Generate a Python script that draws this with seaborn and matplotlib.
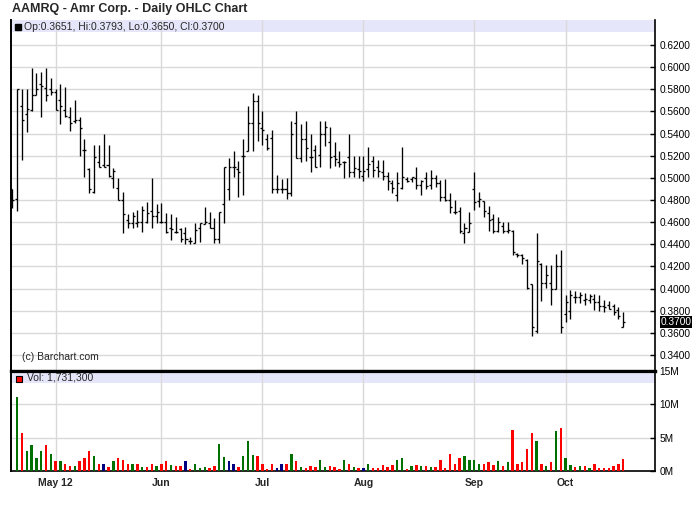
import numpy as np
import pandas as pd
import matplotlib
matplotlib.use("Agg")
import matplotlib.pyplot as plt
import matplotlib.transforms as mtransforms
from matplotlib.patches import Rectangle
import seaborn as sns

# ---- data ----
chart_title = "AAMRQ - Amr Corp. - Daily OHLC Chart"
first_day = "2012-04-18"
last_day = "2012-10-17"
holidays = ["2012-05-28", "2012-07-04", "2012-09-03"]
month_labels = ["May 12", "Jun", "Jul", "Aug", "Sep", "Oct"]

opens = [.490, .481, .565, .558, .561, .575, .585, .581, .580, .578,
         .570, .561, .555, .551, .552, .525, .508, .487, .514, .512,
         .512, .500, .491, .480, .462, .459, .459, .460, .460, .470,
         .466, .460, .460, .455, .451, .454, .450, .443, .441, .455,
         .458, .459, .455, .445, .476, .490, .510, .508, .520, .524,
         .550, .569, .545, .535, .536, .490, .490, .490, .486, .550,
         .518, .535, .519, .525, .521, .540, .532, .520, .514, .514,
         .519, .505, .508, .502, .508, .515, .510, .505, .502, .495,
         .485, .491, .499, .499, .500, .494, .500, .494, .500, .495,
         .483, .480, .469, .470, .450, .451, .490, .479, .479, .468,
         .463, .452, .457, .452, .452, .431, .430, .426, .404, .362,
         .422, .405, .405, .400, .420, .377, .380, .392, .392, .390,
         .390, .391, .388, .384, .385, .384, .381, .3651]
highs = [.490, .580, .580, .580, .599, .595, .596, .599, .590, .580,
         .585, .582, .564, .570, .555, .535, .509, .530, .530, .540,
         .530, .509, .500, .487, .467, .469, .471, .475, .478, .500,
         .476, .477, .468, .467, .465, .455, .456, .447, .459, .459,
         .474, .469, .464, .469, .510, .518, .524, .515, .535, .565,
         .577, .575, .560, .540, .543, .503, .499, .500, .551, .560,
         .549, .551, .540, .530, .551, .551, .546, .532, .524, .515,
         .540, .520, .520, .520, .528, .520, .516, .516, .505, .498,
         .505, .528, .501, .501, .510, .498, .505, .507, .503, .498,
         .499, .486, .480, .474, .459, .469, .505, .487, .479, .475,
         .467, .465, .460, .460, .453, .432, .431, .427, .404, .450,
         .423, .421, .421, .431, .435, .394, .399, .398, .397, .396,
         .395, .395, .394, .390, .389, .386, .383, .3793]
lows = [.473, .470, .516, .541, .560, .575, .555, .569, .575, .561,
        .549, .555, .542, .550, .520, .501, .486, .486, .510, .510,
        .501, .491, .480, .450, .455, .455, .456, .451, .459, .455,
        .459, .459, .450, .444, .450, .442, .440, .440, .441, .442,
        .458, .455, .441, .441, .459, .480, .501, .483, .485, .524,
        .524, .533, .530, .525, .486, .486, .486, .481, .484, .518,
        .514, .515, .505, .510, .510, .529, .509, .511, .510, .500,
        .501, .501, .500, .497, .501, .501, .501, .498, .489, .486,
        .479, .490, .496, .496, .490, .485, .490, .490, .492, .479,
        .479, .468, .467, .450, .441, .451, .471, .474, .465, .452,
        .450, .451, .450, .450, .430, .429, .422, .400, .357, .360,
        .389, .401, .385, .400, .360, .370, .373, .387, .387, .385,
        .387, .381, .380, .379, .382, .376, .373, .3650]
closes = [.480, .580, .552, .562, .575, .580, .583, .575, .578, .561,
          .565, .556, .550, .552, .545, .525, .490, .519, .510, .510,
          .502, .506, .480, .467, .459, .466, .460, .471, .468, .466,
          .469, .460, .451, .454, .451, .445, .445, .443, .453, .459,
          .460, .455, .445, .469, .510, .510, .510, .505, .520, .550,
          .569, .550, .543, .527, .490, .490, .490, .486, .540, .518,
          .535, .527, .519, .510, .540, .546, .519, .517, .513, .514,
          .505, .509, .506, .506, .513, .507, .506, .502, .497, .491,
          .495, .501, .497, .501, .494, .497, .493, .500, .495, .483,
          .480, .474, .469, .452, .455, .459, .478, .481, .470, .462,
          .452, .460, .452, .453, .433, .430, .428, .401, .365, .425,
          .405, .412, .400, .420, .365, .388, .394, .392, .394, .391,
          .393, .388, .384, .383, .382, .379, .375, .3700]
# volume in millions of shares
volumes = [0, 11.1, 5.7, 3.0, 3.9, 1.9, 3.0, 3.9, 2.5, 1.5,
           1.5, 1.0, 0.7, 0.7, 1.5, 1.9, 3.0, 2.2, 1.0, 1.0,
           0.6, 1.5, 1.9, 1.7, 1.1, 1.0, 1.1, 0.6, 0.6, 1.0,
           0.7, 1.0, 1.5, 0.9, 0.7, 0.7, 1.5, 0.25, 1.1, 0.45,
           0.6, 0.45, 0.7, 4.1, 2.1, 1.5, 1.1, 0.55, 2.2, 4.5,
           2.4, 2.2, 1.0, 0.3, 1.1, 0.4, 1.0, 1.0, 2.5, 1.5,
           0.6, 0.45, 0.7, 0.6, 1.7, 0.6, 0.7, 0.6, 0.3, 1.7,
           1.1, 0.55, 0.4, 0.4, 1.1, 0.4, 0.4, 0.85, 0.55, 0.85,
           1.6, 2.0, 0.25, 0.7, 0.85, 0.7, 0.7, 0.55, 0.55, 1.6,
           0.4, 2.6, 1.1, 1.9, 2.3, 1.6, 1.6, 1.0, 1.0, 1.4,
           0.85, 1.5, 0.7, 1.3, 6.1, 1.0, 1.3, 3.3, 5.7, 4.5,
           1.0, 0.7, 1.4, 6.0, 6.4, 2.0, 0.85, 0.55, 0.7, 0.7,
           0.4, 1.0, 0.4, 0.4, 0.4, 0.7, 1.0, 1.7313]

price_ticks = [0.34, 0.36, 0.38, 0.40, 0.42, 0.44, 0.46, 0.48, 0.50,
               0.52, 0.54, 0.56, 0.58, 0.60, 0.62]
volume_ticks = [0, 5, 10, 15]
last_vol = "1,731,300"

# ---- trading days ----
days = pd.bdate_range(first_day, last_day)
days = days[~days.isin(pd.to_datetime(holidays))]
idx = np.arange(len(days))
month_pos = [i for i in idx[1:] if days[i].month != days[i - 1].month]

df = pd.DataFrame({"i": idx, "o": opens, "h": highs, "l": lows, "c": closes, "vol": volumes})
chg = df["c"].diff().fillna(1)
df["dir"] = np.where(np.isclose(chg, 0), "flat", np.where(chg > 0, "up", "down"))
vol_colors = {"up": "#007000", "down": "#ff0000", "flat": "#000080"}

# ---- style ----
sns.set_style("white")
plt.rcParams["font.family"] = ["Liberation Sans", "DejaVu Sans"]

W, H = 700, 512
fig = plt.figure(figsize=(W / 100, H / 100), dpi=100)
axp = fig.add_axes([11 / W, 1 - 371 / H, 644 / W, 351 / H])
axv = fig.add_axes([11 / W, 1 - 471 / H, 644 / W, 100 / H])

grid_c = "#d9d9d9"
band_c = "#e6e6fa"
xlo, xhi = -0.27, 133.6

# price panel: OHLC bars
axp.vlines(df["i"], df["l"], df["h"], color="black", lw=0.95, zorder=3)
axp.hlines(df["o"], df["i"] - 0.42, df["i"], color="black", lw=0.95, zorder=3)
axp.hlines(df["c"], df["i"], df["i"] + 0.42, color="black", lw=0.95, zorder=3)
axp.set_ylim(0.3256, 0.6426)

# volume panel
sns.barplot(data=df, x="i", y="vol", native_scale=True, color="#ff0000",
            saturation=1, width=0.5, errorbar=None, ax=axv, zorder=3)
for bar, d in zip(axv.patches, df["dir"]):
    bar.set_facecolor(vol_colors[d])
    bar.set_edgecolor("none")
axv.set_ylim(0, 15)

for ax in (axp, axv):
    ax.set_xlim(xlo, xhi)
    ax.set_axisbelow(True)
    ax.set_xlabel("")
    ax.set_ylabel("")
    ax.set_xticks(month_pos)
    ax.grid(True, color=grid_c, lw=1.0)
    ax.yaxis.tick_right()
    ax.tick_params(axis="y", direction="in", length=3.5, width=1, pad=3,
                   labelsize=7.3, colors="black", right=True, left=False)
    ax.tick_params(axis="x", length=0)
    ax.spines["left"].set_linewidth(1.4)
    ax.spines["right"].set_linewidth(1.2)
    for s in ax.spines.values():
        s.set_color("black")
    # header band
    hb = 12 / (351 if ax is axp else 100)
    ax.add_patch(Rectangle((0, 1 - hb), 1, hb, transform=ax.transAxes,
                           facecolor=band_c, edgecolor="none", zorder=0.2))

axp.spines["top"].set_visible(False)
axp.spines["bottom"].set_linewidth(2.3)
axv.spines["top"].set_linewidth(2.3)
axv.spines["bottom"].set_linewidth(1.2)

axp.set_yticks(price_ticks)
axp.set_yticklabels([f"{t:.4f}" for t in price_ticks])
axp.tick_params(axis="x", labelbottom=False)
axv.set_yticks(volume_ticks)
axv.set_yticklabels([f"{t}M" for t in volume_ticks])
axv.set_xticklabels(month_labels, fontsize=7.5, fontweight="bold")
axv.tick_params(axis="x", pad=5)

# last close marker
tr = mtransforms.blended_transform_factory(axp.transAxes, axp.transData)
axp.annotate(f"{closes[-1]:.4f}", xy=(1, closes[-1]), xycoords=tr,
             xytext=(4, 0), textcoords="offset points", va="center", ha="left",
             fontsize=7.3, color="white", zorder=6,
             bbox=dict(boxstyle="square,pad=0.08", fc="black", ec="none"))

# texts
fig.text(12 / W, 1 - 9 / H, chart_title, fontsize=9, fontweight="bold", va="center", ha="left")
fig.add_artist(Rectangle((15 / W, 1 - 29.5 / H), 6 / W, 6 / H, transform=fig.transFigure,
                         facecolor="black", edgecolor="black"))
fig.text(24 / W, 1 - 26.5 / H,
         f"Op:{opens[-1]:.4f}, Hi:{highs[-1]:.4f}, Lo:{lows[-1]:.4f}, Cl:{closes[-1]:.4f}",
         fontsize=7.5, va="center", ha="left")
fig.add_artist(Rectangle((16 / W, 1 - 381.5 / H), 6 / W, 6 / H, transform=fig.transFigure,
                         facecolor="#ff0000", edgecolor="black", lw=0.8))
fig.text(27 / W, 1 - 377.5 / H, f"Vol: {last_vol}", fontsize=7.5, va="center", ha="left")
axp.text(11 / 644, 14 / 351, "(c) Barchart.com", transform=axp.transAxes,
         fontsize=7.5, va="center", ha="left")

fig.savefig("out.png", dpi=100, facecolor="white")
